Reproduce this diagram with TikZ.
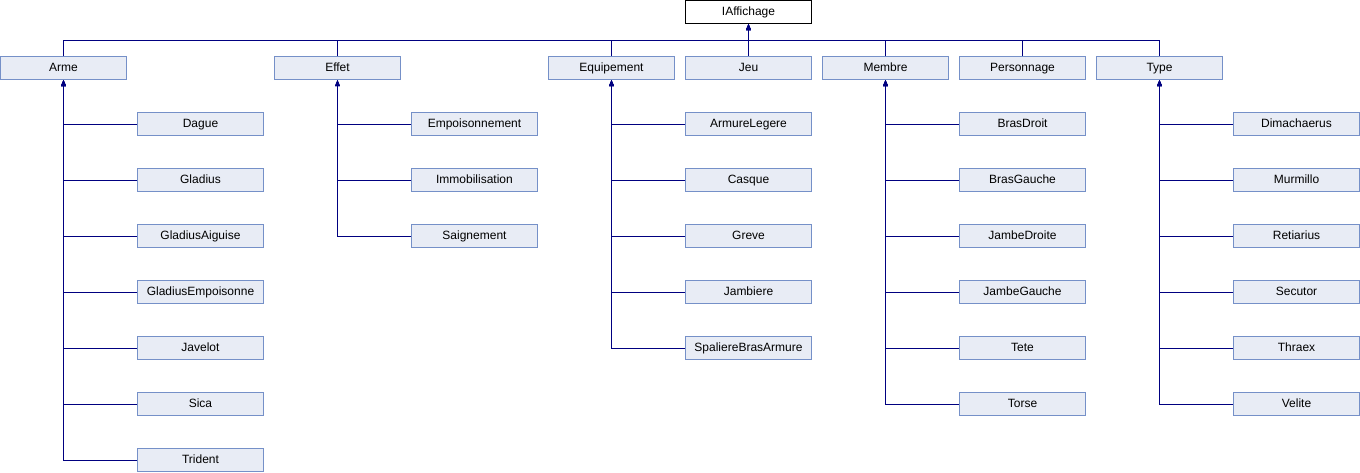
\documentclass[tikz,border=0pt]{standalone}
\usepackage{fontspec}
\setmainfont{Liberation Sans}
\usetikzlibrary{arrows.meta}
\definecolor{boxFill}{HTML}{E8ECF5}
\definecolor{boxLine}{HTML}{7590C8}
\definecolor{edgeBlue}{HTML}{000080}
\begin{document}
\begin{tikzpicture}
[x=0.75pt,y=-0.75pt,
  classDecorate/.style={shape=rectangle,draw=boxLine,fill=boxFill,line width=0.75pt,
    minimum width=94.5pt,minimum height=17.25pt,inner sep=0pt,
    text height=6.6pt,text depth=1.9pt,font=\fontsize{9}{10}\selectfont},%
  rootDecorate/.style={classDecorate,draw=black,fill=white},%
  lineDecorate/.style={draw=edgeBlue,line width=0.75pt,-{Triangle[length=4.5pt,width=3.5pt]}}]
\useasboundingbox (0,0) rectangle (1360,472);
%% root and first level
\node (IAffichage) at (748.5,12) [rootDecorate] {IAffichage};
\coordinate (bus) at (748.5,40);
\foreach \nodename/\x in {
  Arme/63.5, Effet/337.5, Equipement/611.5, Jeu/748.5,
  Membre/885.5, Personnage/1022.5, Type/1159.5}
{
  \node (\nodename) at (\x,68) [classDecorate] {\nodename};
  \draw[lineDecorate] (\nodename.north) |- (bus) -- (IAffichage.south);
}
%% second level: name/parent/x/y
\foreach \nodename/\parent/\x/\y in {
  Dague/Arme/200.5/124, Gladius/Arme/200.5/180, GladiusAiguise/Arme/200.5/236,
  GladiusEmpoisonne/Arme/200.5/292, Javelot/Arme/200.5/348, Sica/Arme/200.5/404,
  Trident/Arme/200.5/460,
  Empoisonnement/Effet/474.5/124, Immobilisation/Effet/474.5/180,
  Saignement/Effet/474.5/236,
  ArmureLegere/Equipement/748.5/124, Casque/Equipement/748.5/180,
  Greve/Equipement/748.5/236, Jambiere/Equipement/748.5/292,
  SpaliereBrasArmure/Equipement/748.5/348,
  BrasDroit/Membre/1022.5/124, BrasGauche/Membre/1022.5/180,
  JambeDroite/Membre/1022.5/236, JambeGauche/Membre/1022.5/292,
  Tete/Membre/1022.5/348, Torse/Membre/1022.5/404,
  Dimachaerus/Type/1296.5/124, Murmillo/Type/1296.5/180,
  Retiarius/Type/1296.5/236, Secutor/Type/1296.5/292,
  Thraex/Type/1296.5/348, Velite/Type/1296.5/404}
{
  \node (\nodename) at (\x,\y) [classDecorate] {\nodename};
  \draw[lineDecorate] (\nodename.west) -| (\parent.south);
}
\end{tikzpicture}
\end{document}
